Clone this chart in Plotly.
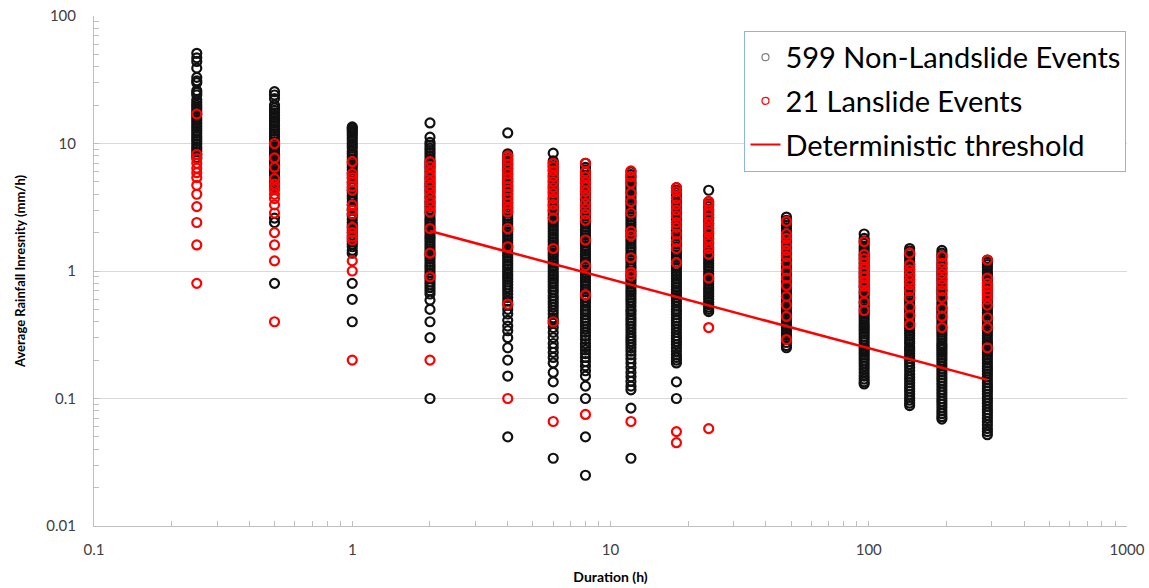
import plotly.graph_objects as go

# ---------------- data ----------------
durations = [0.25, 0.5, 1, 2, 4, 6, 8, 12, 18, 24, 48, 96, 144, 192, 288]

# Non-landslide events (mm/h) per duration
nonls_0_25h = [51, 47, 44, 39, 33, 31, 30, 26, 25, 24, 22, 21, 20, 19.3, 18.5, 17.6, 16.8, 16.0, 15.2,
               14.5, 13.8, 13.2, 12.6, 12.0, 11.4, 10.9, 10.4, 9.9, 9.4, 9.0, 8.6, 8.2, 7.8]
nonls_0_5h = [25.5, 24, 22.5, 20, 19, 18.2, 17.4, 16.6, 15.8, 15.1, 14.4, 13.8, 13.1, 12.5, 11.9, 11.4,
              10.8, 10.3, 9.9, 9.4, 9.0, 8.6, 8.2, 7.8, 7.4, 7.1, 6.8, 6.4, 6.1, 5.9, 5.6, 5.3, 5.1, 4.9,
              4.6, 4.4, 2.6, 2.4, 0.8]
nonls_1h = [13.5, 13.2, 12.8, 12.4, 12.0, 11.5, 11.0, 10.5, 10.0, 9.6, 9.2, 8.7, 8.3, 7.9, 7.5, 7.1, 6.8,
            6.5, 6.2, 5.9, 5.6, 5.3, 5.0, 4.8, 4.5, 4.3, 4.1, 3.9, 3.7, 3.5, 3.3, 3.1, 3.0, 2.8, 2.7, 2.55,
            2.4, 2.3, 2.2, 2.1, 2.0, 1.9, 1.8, 1.7, 1.62, 1.55, 1.45, 1.38, 0.8, 0.6, 0.4]
nonls_2h = [14.5, 11.2, 10.2, 9.7, 9.2, 8.8, 8.4, 8.0, 7.6, 7.2, 6.9, 6.6, 6.3, 6.0, 5.7, 5.4, 5.2, 4.9,
            4.7, 4.5, 4.3, 4.1, 3.9, 3.7, 3.5, 3.35, 3.2, 3.05, 2.9, 2.75, 2.6, 2.5, 2.4, 2.3, 2.2, 2.1,
            2.0, 1.9, 1.82, 1.74, 1.66, 1.58, 1.5, 1.43, 1.36, 1.3, 1.24, 1.18, 1.12, 1.07, 1.02, 0.97,
            0.92, 0.87, 0.82, 0.78, 0.74, 0.7, 0.66, 0.59, 0.5, 0.4, 0.3, 0.1]
nonls_4h = [12.1, 8.3, 8.0, 7.6, 7.3, 7.0, 6.7, 6.4, 6.1, 5.8, 5.55, 5.3, 5.05, 4.8, 4.6, 4.4, 4.2, 4.0,
            3.8, 3.6, 3.45, 3.3, 3.15, 3.0, 2.85, 2.7, 2.58, 2.46, 2.34, 2.23, 2.12, 2.02, 1.93, 1.84,
            1.75, 1.67, 1.59, 1.52, 1.45, 1.38, 1.32, 1.26, 1.2, 1.14, 1.09, 1.04, 0.99, 0.94, 0.9, 0.86,
            0.82, 0.78, 0.74, 0.7, 0.66, 0.62, 0.58, 0.54, 0.5, 0.46, 0.41, 0.37, 0.34, 0.3, 0.25, 0.2,
            0.15, 0.05]
nonls_6h = [8.4, 7.3, 7.0, 6.7, 6.4, 6.1, 5.8, 5.55, 5.3, 5.05, 4.8, 4.6, 4.4, 4.2, 4.0, 3.8, 3.63, 3.46,
            3.3, 3.15, 3.0, 2.86, 2.73, 2.6, 2.48, 2.36, 2.25, 2.15, 2.05, 1.95, 1.86, 1.77, 1.69, 1.61,
            1.53, 1.46, 1.39, 1.33, 1.27, 1.21, 1.15, 1.1, 1.05, 1.0, 0.95, 0.91, 0.87, 0.83, 0.79, 0.75,
            0.71, 0.68, 0.64, 0.61, 0.58, 0.55, 0.52, 0.49, 0.46, 0.43, 0.41, 0.39, 0.36, 0.33, 0.3, 0.27,
            0.25, 0.23, 0.21, 0.19, 0.16, 0.135, 0.1, 0.034]
nonls_8h = [7.0, 6.5, 6.2, 5.9, 5.6, 5.35, 5.1, 4.85, 4.6, 4.4, 4.2, 4.0, 3.8, 3.62, 3.45, 3.28, 3.12,
            2.97, 2.83, 2.7, 2.57, 2.45, 2.33, 2.22, 2.11, 2.01, 1.92, 1.83, 1.74, 1.66, 1.58, 1.5, 1.43,
            1.36, 1.3, 1.24, 1.18, 1.12, 1.07, 1.02, 0.97, 0.92, 0.88, 0.84, 0.8, 0.76, 0.72, 0.69, 0.65,
            0.62, 0.59, 0.56, 0.53, 0.5, 0.48, 0.455, 0.43, 0.41, 0.39, 0.37, 0.35, 0.33, 0.31, 0.29, 0.27,
            0.255, 0.24, 0.225, 0.21, 0.195, 0.18, 0.165, 0.15, 0.125, 0.1, 0.05, 0.025]
nonls_12h = [6.0, 5.7, 5.45, 5.2, 4.95, 4.7, 4.5, 4.3, 4.1, 3.9, 3.72, 3.55, 3.38, 3.22, 3.07, 2.92, 2.78,
             2.65, 2.52, 2.4, 2.29, 2.18, 2.08, 1.98, 1.88, 1.79, 1.71, 1.63, 1.55, 1.48, 1.41, 1.34, 1.28,
             1.22, 1.16, 1.1, 1.05, 1.0, 0.95, 0.91, 0.87, 0.83, 0.79, 0.75, 0.71, 0.68, 0.65, 0.62, 0.59,
             0.56, 0.53, 0.5, 0.48, 0.455, 0.43, 0.41, 0.39, 0.37, 0.35, 0.33, 0.31, 0.295, 0.28, 0.265,
             0.25, 0.235, 0.22, 0.205, 0.19, 0.175, 0.16, 0.148, 0.136, 0.125, 0.117, 0.084, 0.034]
nonls_18h = [4.5, 4.3, 4.1, 3.9, 3.72, 3.55, 3.38, 3.22, 3.07, 2.92, 2.78, 2.65, 2.52, 2.4, 2.29, 2.18,
             2.08, 1.98, 1.88, 1.79, 1.71, 1.63, 1.55, 1.48, 1.41, 1.34, 1.28, 1.22, 1.16, 1.1, 1.05, 1.0,
             0.95, 0.91, 0.87, 0.83, 0.79, 0.75, 0.71, 0.68, 0.65, 0.62, 0.59, 0.56, 0.53, 0.5, 0.48, 0.455,
             0.43, 0.41, 0.39, 0.37, 0.35, 0.33, 0.31, 0.295, 0.28, 0.265, 0.25, 0.235, 0.22, 0.21, 0.2,
             0.19, 0.135, 0.1]
nonls_24h = [4.3, 3.5, 3.35, 3.2, 3.05, 2.9, 2.76, 2.63, 2.5, 2.38, 2.27, 2.16, 2.06, 1.96, 1.87, 1.78,
             1.7, 1.62, 1.54, 1.47, 1.4, 1.33, 1.27, 1.21, 1.15, 1.1, 1.05, 1.0, 0.95, 0.91, 0.87, 0.83,
             0.79, 0.75, 0.72, 0.69, 0.66, 0.63, 0.6, 0.57, 0.545, 0.52, 0.5, 0.48]
nonls_48h = [2.65, 2.5, 2.38, 2.27, 2.16, 2.06, 1.96, 1.87, 1.78, 1.7, 1.62, 1.54, 1.47, 1.4, 1.33, 1.27,
             1.21, 1.15, 1.1, 1.05, 1.0, 0.95, 0.91, 0.87, 0.83, 0.79, 0.75, 0.72, 0.69, 0.66, 0.63, 0.6,
             0.57, 0.545, 0.52, 0.5, 0.48, 0.46, 0.44, 0.42, 0.4, 0.38, 0.36, 0.345, 0.33, 0.315, 0.3, 0.29,
             0.275, 0.26, 0.25]
nonls_96h = [1.95, 1.8, 1.72, 1.64, 1.56, 1.49, 1.42, 1.35, 1.29, 1.23, 1.17, 1.12, 1.07, 1.02, 0.97,
             0.93, 0.89, 0.85, 0.81, 0.77, 0.74, 0.7, 0.67, 0.64, 0.61, 0.58, 0.555, 0.53, 0.505, 0.48,
             0.46, 0.44, 0.42, 0.4, 0.38, 0.365, 0.35, 0.335, 0.32, 0.305, 0.29, 0.275, 0.26, 0.25, 0.24,
             0.23, 0.22, 0.21, 0.2, 0.19, 0.18, 0.17, 0.16, 0.15, 0.142, 0.135, 0.13]
nonls_144h = [1.5, 1.43, 1.37, 1.31, 1.25, 1.19, 1.13, 1.08, 1.03, 0.98, 0.94, 0.9, 0.86, 0.82, 0.78,
              0.74, 0.71, 0.68, 0.65, 0.62, 0.59, 0.56, 0.535, 0.51, 0.49, 0.47, 0.45, 0.43, 0.41, 0.39,
              0.37, 0.355, 0.34, 0.325, 0.31, 0.295, 0.28, 0.27, 0.255, 0.245, 0.235, 0.225, 0.215, 0.205,
              0.195, 0.185, 0.175, 0.165, 0.155, 0.147, 0.14, 0.133, 0.126, 0.12, 0.114, 0.108, 0.102,
              0.097, 0.092, 0.088]
nonls_192h = [1.45, 1.38, 1.32, 1.26, 1.2, 1.14, 1.09, 1.04, 0.99, 0.95, 0.91, 0.87, 0.83, 0.79, 0.75,
              0.72, 0.69, 0.66, 0.63, 0.6, 0.57, 0.545, 0.52, 0.5, 0.48, 0.46, 0.44, 0.42, 0.4, 0.38, 0.36,
              0.345, 0.33, 0.315, 0.3, 0.285, 0.27, 0.26, 0.25, 0.24, 0.23, 0.22, 0.21, 0.2, 0.19, 0.18,
              0.17, 0.162, 0.154, 0.146, 0.139, 0.132, 0.125, 0.118, 0.112, 0.106, 0.1, 0.095, 0.09, 0.085,
              0.08, 0.076, 0.072, 0.069]
nonls_288h = [1.22, 1.17, 1.12, 1.07, 1.02, 0.97, 0.93, 0.89, 0.85, 0.81, 0.77, 0.74, 0.71, 0.68, 0.65,
              0.62, 0.59, 0.565, 0.54, 0.515, 0.49, 0.47, 0.45, 0.43, 0.41, 0.39, 0.37, 0.355, 0.34, 0.325,
              0.31, 0.295, 0.28, 0.27, 0.26, 0.25, 0.24, 0.23, 0.22, 0.21, 0.2, 0.19, 0.18, 0.172, 0.164,
              0.156, 0.148, 0.14, 0.133, 0.126, 0.12, 0.114, 0.108, 0.102, 0.097, 0.092, 0.087, 0.082,
              0.078, 0.074, 0.07, 0.066, 0.062, 0.058, 0.055, 0.052]

# Landslide events (mm/h) per duration
ls_0_25h = [17, 8.2, 7.6, 7.0, 6.4, 5.9, 5.4, 4.7, 4.0, 3.2, 2.4, 1.6, 0.8]
ls_0_5h = [10, 7.7, 6.5, 5.3, 4.8, 4.4, 4.0, 3.7, 3.3, 2.85, 2.0, 1.6, 1.2, 0.4]
ls_1h = [7.2, 5.8, 5.4, 5.0, 4.6, 4.3, 3.3, 3.0, 2.8, 2.2, 2.0, 1.85, 1.75, 1.2, 1.0, 0.2]
ls_2h = [7.2, 6.6, 6.0, 5.5, 5.0, 4.6, 4.2, 3.8, 3.5, 3.2, 2.9, 2.15, 1.38, 0.9, 0.2]
ls_4h = [8.0, 7.5, 6.9, 6.3, 5.8, 5.3, 5.0, 4.6, 4.3, 4.0, 3.7, 3.4, 3.1, 2.9, 2.15, 1.55, 0.55, 0.1]
ls_6h = [7.0, 6.6, 6.1, 5.5, 5.0, 4.5, 4.1, 3.7, 3.3, 3.0, 2.6, 1.5, 0.4, 0.066]
ls_8h = [7.0, 6.0, 5.5, 5.0, 4.6, 4.2, 3.8, 3.4, 3.1, 2.8, 2.5, 1.75, 1.1, 0.65, 0.075]
ls_12h = [6.1, 5.5, 4.9, 4.1, 3.5, 2.85, 2.05, 1.9, 1.27, 0.98, 0.92, 0.066]
ls_18h = [4.5, 4.2, 3.7, 3.3, 3.0, 2.7, 2.4, 2.2, 1.95, 1.7, 1.5, 1.16, 0.055, 0.045]
ls_24h = [3.5, 3.3, 3.0, 2.8, 2.6, 2.35, 2.15, 2.0, 1.8, 1.65, 1.5, 1.35, 0.88, 0.36, 0.058]
ls_48h = [2.45, 1.95, 1.8, 1.6, 1.45, 1.3, 1.15, 1.0, 0.88, 0.77, 0.63, 0.54, 0.44, 0.29]
ls_96h = [1.7, 1.35, 1.25, 1.15, 1.05, 0.97, 0.9, 0.82, 0.76, 0.68, 0.57, 0.49]
ls_144h = [1.38, 1.12, 1.02, 0.93, 0.85, 0.78, 0.7, 0.62, 0.52, 0.45, 0.38]
ls_192h = [1.3, 1.15, 1.05, 0.95, 0.86, 0.78, 0.7, 0.62, 0.51, 0.44, 0.36]
ls_288h = [1.22, 0.88, 0.8, 0.75, 0.7, 0.65, 0.6, 0.54, 0.43, 0.36, 0.25]

# Deterministic threshold end points
thr_duration = [2, 288]
thr_intensity = [2.06, 0.14]

x_ticks = [0.1, 1, 10, 100, 1000]
x_ticktext = ["0.1", "1", "10", "100", "1000"]
y_ticks = [0.01, 0.1, 1, 10, 100]
y_ticktext = ["0.01", "0.1", "1", "10", "100"]

# ---------------- assemble ----------------
nonls_lists = [nonls_0_25h, nonls_0_5h, nonls_1h, nonls_2h, nonls_4h, nonls_6h, nonls_8h, nonls_12h,
               nonls_18h, nonls_24h, nonls_48h, nonls_96h, nonls_144h, nonls_192h, nonls_288h]
ls_lists = [ls_0_25h, ls_0_5h, ls_1h, ls_2h, ls_4h, ls_6h, ls_8h, ls_12h, ls_18h, ls_24h, ls_48h,
            ls_96h, ls_144h, ls_192h, ls_288h]

nx, ny = [], []
for d, vals in zip(durations, nonls_lists):
    nx += [d] * len(vals)
    ny += vals
lx, ly = [], []
for d, vals in zip(durations, ls_lists):
    lx += [d] * len(vals)
    ly += vals

BLACK = "#111111"
RED = "#ff0000"
FONT = "Lato"

fig = go.Figure()
fig.add_trace(go.Scatter(x=nx, y=ny, mode="markers", showlegend=False, hoverinfo="skip",
                         marker=dict(symbol="circle-open", size=9, color=BLACK, line=dict(width=2.2, color=BLACK))))
fig.add_trace(go.Scatter(x=lx, y=ly, mode="markers", showlegend=False, hoverinfo="skip",
                         marker=dict(symbol="circle-open", size=9, color=RED, line=dict(width=2.2, color=RED))))
fig.add_trace(go.Scatter(x=thr_duration, y=thr_intensity, mode="lines", showlegend=False,
                         line=dict(color=RED, width=2.5)))

# legend entries
fig.add_trace(go.Scatter(x=[None], y=[None], mode="markers", name="599 Non-Landslide Events",
                         legendgroup="a",
                         marker=dict(symbol="circle-open", size=7, color="#7f7f7f", line=dict(width=1.2, color="#7f7f7f"))))
fig.add_trace(go.Scatter(x=[None], y=[None], mode="markers", name="21 Lanslide Events",
                         legendgroup="b",
                         marker=dict(symbol="circle-open", size=7, color=RED, line=dict(width=1.2, color=RED))))
fig.add_trace(go.Scatter(x=[None], y=[None], mode="lines", name="Deterministic threshold",
                         legendgroup="c", line=dict(color=RED, width=2)))

minor_x = [m * 10 ** e for e in range(-1, 3) for m in range(2, 10)]
minor_y = [m * 10 ** e for e in range(-2, 2) for m in range(2, 10)]
AXC = "#bfbfbf"

fig.update_xaxes(type="log", range=[-1, 3], showgrid=False, zeroline=False, automargin=False,
                 showline=True, linecolor=AXC, linewidth=1,
                 ticks="inside", ticklen=5, tickcolor=AXC,
                 tickvals=x_ticks, ticktext=x_ticktext, ticklabelstandoff=10,
                 tickfont=dict(family=FONT, size=15, color="#404040"),
                 minor=dict(tickvals=minor_x, ticks="inside", ticklen=5, tickcolor=AXC, showgrid=False),
                 title=dict(text="<b>Duration (h)</b>", font=dict(family=FONT, size=14, color="#000000"),
                            standoff=15))
fig.update_yaxes(type="log", range=[-2, 2], showgrid=True, gridcolor="#d9d9d9", gridwidth=1,
                 zeroline=False, showline=True, linecolor=AXC, linewidth=1, automargin=False,
                 ticks="inside", ticklen=5, tickcolor=AXC,
                 tickvals=y_ticks, ticktext=y_ticktext, ticklabelstandoff=14,
                 tickfont=dict(family=FONT, size=15, color="#404040"),
                 minor=dict(tickvals=minor_y, ticks="inside", ticklen=5, tickcolor=AXC, showgrid=False),
                 title=dict(text="<b>Average Rainfall Inresnity (mm/h)</b>",
                            font=dict(family=FONT, size=13, color="#000000"), standoff=17))

fig.update_layout(
    width=1149, height=588,
    margin=dict(l=94, r=22, t=16, b=62, autoexpand=False),
    paper_bgcolor="white", plot_bgcolor="white",
    legend=dict(x=0.9995, y=0.971, xanchor="right", yanchor="top",
                bordercolor="#8eb4e3", borderwidth=1, bgcolor="white",
                font=dict(family=FONT, size=29, color="#000000"),
                traceorder="grouped", tracegroupgap=3, itemsizing="trace"),
)

fig.write_html("out.html", config={"displayModeBar": False},
               post_script="document.body.style.margin='0';")
